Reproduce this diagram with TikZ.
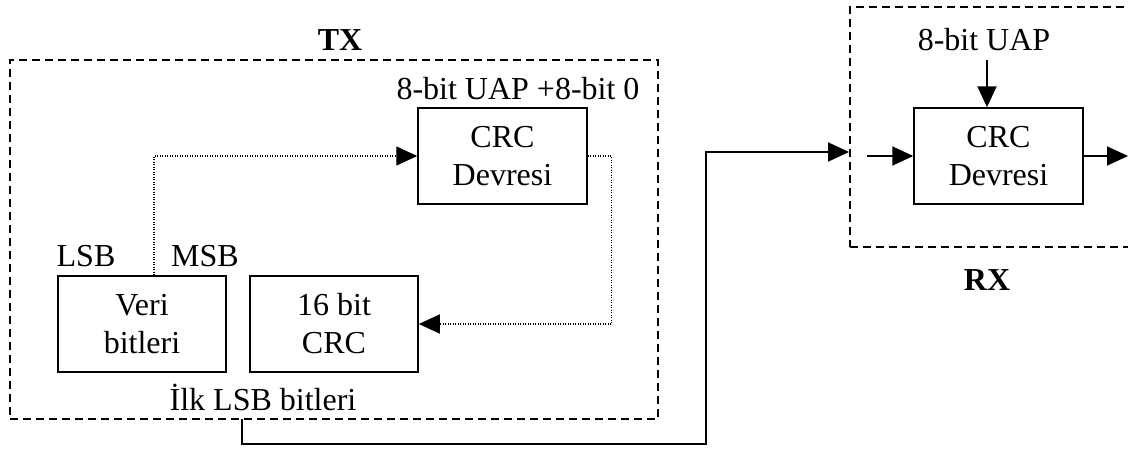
\documentclass[tikz,border=0pt]{standalone}
\usepackage{fontspec}
\setmainfont{Liberation Serif}
\usetikzlibrary{arrows.meta}
\begin{document}
\begin{tikzpicture}[x=1pt,y=-1pt,
  txt/.style={font=\fontsize{32}{38}\selectfont, inner sep=0pt},
  blk/.style={txt, draw, line width=1.5pt, minimum height=96pt, align=center},
  grp/.style={draw, line width=2pt, dash pattern=on 8pt off 5pt, inner sep=0pt},
  ttl/.style={txt, font=\fontsize{32}{38}\selectfont\bfseries},
  arr/.style={-{Triangle[length=21pt,width=19pt]}},
  dotline/.style={line width=1.2pt, dash pattern=on 1.2pt off 1.3pt},
  solidline/.style={line width=2pt}
]
\useasboundingbox (0,0) rectangle (1128,448);
\clip (0,0) rectangle (1128,448);

% group boxes
\node[grp, minimum width=648pt, minimum height=359pt] (tx) at (334,239.5) {};
\node[grp, minimum width=290pt, minimum height=240pt] (rx) at (995,127) {};

% blocks
\node[blk, minimum width=169pt] (crc1) at (502.5,156) {CRC\\Devresi};
\node[blk, minimum width=168pt] (veri) at (142,324) {Veri\\bitleri};
\node[blk, minimum width=168pt] (crc16) at (334,324) {16 bit\\CRC};
\node[blk, minimum width=169pt] (crc2) at (998.5,156) {CRC\\Devresi};

% labels
\node[ttl, anchor=base] (txl) at (340,50) {TX};
\node[ttl, anchor=base] (rxl) at (987,290) {RX};
\node[txt, anchor=base] (uap1) at (518,99) {8-bit UAP +8-bit 0};
\node[txt, anchor=base] (lsb) at (86,266) {LSB};
\node[txt, anchor=base] (msb) at (205,266) {MSB};
\node[txt, anchor=base] (ilk) at (263,410) {İlk LSB bitleri};
\node[txt, anchor=base] (uap2) at (984,50) {8-bit UAP};

% coordinates
\coordinate (uapin) at (987,60);
\coordinate (rxin) at (867,156);
\coordinate (rxout) at (1128,156);
\coordinate (txout) at (242,419);
\coordinate (bend) at (706,152);

% dotted connectors
\draw[dotline, arr] ([xshift=12pt]veri.north) |- (crc1.west);
\draw[dotline, arr] (crc1.east) -- ++(24,0) |- (crc16.east);

% solid connectors
\draw[solidline, arr] (txout) -- ++(0,25) -| (bend) -- (bend -| rx.west);
\draw[solidline, arr] (uapin) -- (uapin |- crc2.north);
\draw[solidline, arr] (rxin) -- (crc2.west);
\draw[solidline, arr] (crc2.east) -- (rxout);
\end{tikzpicture}
\end{document}
